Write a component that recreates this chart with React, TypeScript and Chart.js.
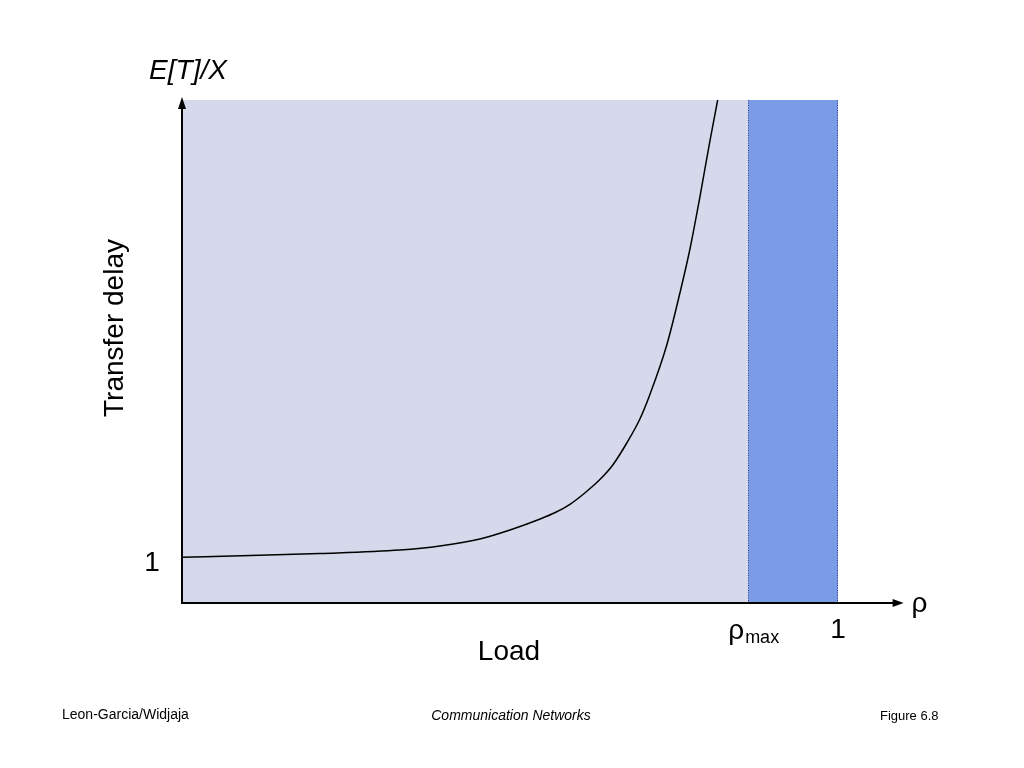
import React, { useEffect, useRef } from "react";
import { Chart, registerables } from "chart.js";

Chart.register(...registerables);

// Load (rho) values and normalized transfer delay E[T]/X
const loadValues = [0, 0.104, 0.21, 0.332, 0.393, 0.454, 0.5, 0.546, 0.569, 0.592, 0.614, 0.637, 0.657, 0.678, 0.698, 0.713, 0.739, 0.759, 0.774, 0.79, 0.805, 0.816, 0.838];
const delayValues = [1.0, 1.039, 1.083, 1.159, 1.247, 1.4, 1.597, 1.837, 1.979, 2.165, 2.406, 2.7, 3.024, 3.499, 4.024, 4.549, 5.642, 6.779, 7.72, 8.922, 10.125, 10.956, 12.74];

const rhoMax = 0.863;
const rhoLimit = 1;
const xAxisMax = 1.1;
const yAxisMax = 11;
const yTickValue = 1;

const yAxisTitle = "E[T]/X";
const yAxisLabel = "Transfer delay";
const xAxisLabel = "Load";
const xAxisSymbol = "ρ";
const footerLeft = "Leon-Garcia/Widjaja";
const footerCenter = "Communication Networks";
const footerRight = "Figure 6.8";

const FONT = "Arial, 'Liberation Sans', sans-serif";

const decorPlugin = {
  id: "decor",
  beforeDatasetsDraw(chart: any) {
    const { ctx, scales } = chart;
    const xs = scales.x;
    const ys = scales.y;
    const x0 = xs.getPixelForValue(0);
    const xm = xs.getPixelForValue(rhoMax);
    const x1 = xs.getPixelForValue(rhoLimit);
    const yTop = ys.getPixelForValue(yAxisMax);
    const yBot = ys.getPixelForValue(0);
    ctx.save();
    ctx.fillStyle = "#D6D8EB";
    ctx.fillRect(x0, yTop, xm - x0, yBot - yTop);
    ctx.fillStyle = "#7A9BE6";
    ctx.fillRect(xm, yTop, x1 - xm, yBot - yTop);
    ctx.strokeStyle = "#2B3A8C";
    ctx.lineWidth = 1;
    ctx.setLineDash([1, 1.5]);
    ctx.beginPath();
    ctx.moveTo(Math.round(xm) + 0.5, yTop);
    ctx.lineTo(Math.round(xm) + 0.5, yBot);
    ctx.moveTo(Math.round(x1) - 0.5, yTop);
    ctx.lineTo(Math.round(x1) - 0.5, yBot);
    ctx.stroke();
    ctx.restore();
  },
  afterDatasetsDraw(chart: any) {
    const { ctx, scales } = chart;
    const xs = scales.x;
    const ys = scales.y;
    const x0 = xs.getPixelForValue(0);
    const xm = xs.getPixelForValue(rhoMax);
    const x1 = xs.getPixelForValue(rhoLimit);
    const xEnd = xs.getPixelForValue(xAxisMax);
    const yTop = ys.getPixelForValue(yAxisMax);
    const yBot = ys.getPixelForValue(0);
    const y1 = ys.getPixelForValue(yTickValue);

    ctx.save();
    ctx.strokeStyle = "#000";
    ctx.fillStyle = "#000";
    ctx.lineWidth = 2;
    // y axis
    ctx.beginPath();
    ctx.moveTo(x0, yBot + 1);
    ctx.lineTo(x0, yTop + 6);
    ctx.stroke();
    ctx.beginPath();
    ctx.moveTo(x0, yTop - 3);
    ctx.lineTo(x0 - 4, yTop + 9);
    ctx.lineTo(x0 + 4, yTop + 9);
    ctx.closePath();
    ctx.fill();
    // x axis
    ctx.beginPath();
    ctx.moveTo(x0 - 1, yBot);
    ctx.lineTo(xEnd - 8, yBot);
    ctx.stroke();
    ctx.beginPath();
    ctx.moveTo(xEnd, yBot);
    ctx.lineTo(xEnd - 11, yBot - 4);
    ctx.lineTo(xEnd - 11, yBot + 4);
    ctx.closePath();
    ctx.fill();

    // texts
    ctx.textBaseline = "alphabetic";
    ctx.textAlign = "center";
    ctx.font = `italic 28px ${FONT}`;
    ctx.fillText(yAxisTitle, x0 + 6, yTop - 21);

    ctx.font = `28px ${FONT}`;
    ctx.textBaseline = "middle";
    ctx.fillText(String(yTickValue), x0 - 30, y1 + 6);
    ctx.fillText(String(rhoLimit), x1, yBot + 27);
    ctx.textAlign = "left";
    ctx.fillText(xAxisSymbol, xEnd + 8, yBot + 1);
    ctx.textAlign = "center";
    ctx.textBaseline = "alphabetic";
    ctx.fillText(xAxisLabel, 509, yBot + 57);

    // rho_max
    ctx.textAlign = "left";
    ctx.font = `28px ${FONT}`;
    ctx.fillText("ρ", xm - 20, yBot + 36);
    ctx.font = `18px ${FONT}`;
    ctx.fillText("max", xm - 3, yBot + 40);

    // rotated label
    ctx.save();
    ctx.translate(123, 328);
    ctx.rotate(-Math.PI / 2);
    ctx.textAlign = "center";
    ctx.font = `28px ${FONT}`;
    ctx.fillText(yAxisLabel, 0, 0);
    ctx.restore();

    // footer
    ctx.font = `14px ${FONT}`;
    ctx.textAlign = "left";
    ctx.fillText(footerLeft, 62, 719);
    ctx.font = `italic 14px ${FONT}`;
    ctx.textAlign = "center";
    ctx.fillText(footerCenter, 511, 720);
    ctx.font = `13px ${FONT}`;
    ctx.textAlign = "left";
    ctx.fillText(footerRight, 880, 720);
    ctx.restore();
  },
};

export default function App() {
  const ref = useRef<HTMLCanvasElement | null>(null);
  useEffect(() => {
    if (!ref.current) return;
    const chart = new Chart(ref.current, {
      type: "line",
      data: {
        datasets: [
          {
            data: loadValues.map((x, i) => ({ x, y: delayValues[i] })),
            borderColor: "#000",
            borderWidth: 1.5,
            pointRadius: 0,
            cubicInterpolationMode: "monotone",
            fill: false,
          },
        ],
      },
      options: {
        responsive: false,
        animation: false,
        events: [],
        layout: { padding: { left: 182, right: 1024 - 903.6, top: 100, bottom: 165 } },
        plugins: { legend: { display: false }, tooltip: { enabled: false }, title: { display: false } },
        scales: {
          x: { type: "linear", min: 0, max: xAxisMax, display: false },
          y: { type: "linear", min: 0, max: yAxisMax, display: false },
        },
      },
      plugins: [decorPlugin],
    } as any);
    return () => chart.destroy();
  }, []);
  return (
    <div style={{ position: "absolute", left: 0, top: 0, width: 1024, height: 768, background: "#fff" }}>
      <canvas ref={ref} width={1024} height={768} style={{ width: 1024, height: 768, display: "block" }} />
    </div>
  );
}
